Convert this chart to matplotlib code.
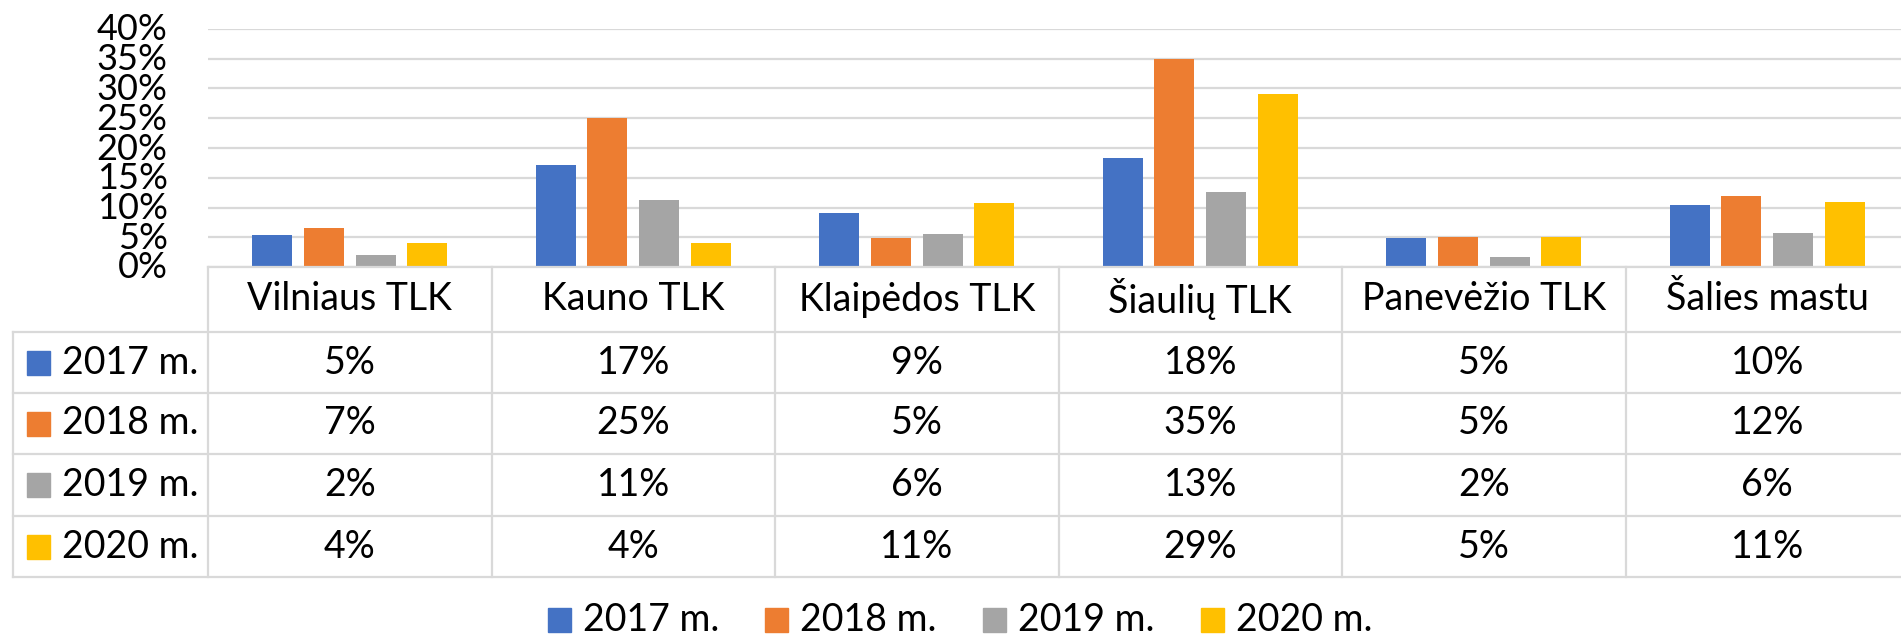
import matplotlib
matplotlib.use("Agg")
from matplotlib import pyplot as plt
from matplotlib.patches import Rectangle
from matplotlib.transforms import blended_transform_factory, ScaledTranslation
from matplotlib.ticker import PercentFormatter

# chart data
categories = ['Vilniaus TLK', 'Kauno TLK', 'Klaipėdos TLK', 'Šiaulių TLK', 'Panevėžio TLK', 'Šalies mastu']
years = ['2017 m.', '2018 m.', '2019 m.', '2020 m.']
v2017 = [0.054, 0.171, 0.091, 0.183, 0.048, 0.104]
v2018 = [0.066, 0.250, 0.049, 0.350, 0.050, 0.120]
v2019 = [0.020, 0.112, 0.055, 0.126, 0.016, 0.057]
v2020 = [0.040, 0.040, 0.108, 0.290, 0.050, 0.110]
series = [v2017, v2018, v2019, v2020]
colors = ['#4472C4', '#ED7D31', '#A5A5A5', '#FFC000']

W, H = 1901, 638
plt.rcParams['font.family'] = ['Lato', 'DejaVu Sans']
fig = plt.figure(figsize=(W / 100, H / 100), dpi=100)

# pixel layout of the Excel-style chart
left_px, right_px, top_px, base_px = 208, 1909, 29, 267
row_px = [267, 332, 393, 454, 516, 577]
table_left_px = 13
grid_c = '#D9D9D9'
fs = 27


def fy(py):
    return 1 - py / H


def fx(px):
    return px / W


ax = fig.add_axes([fx(left_px), fy(base_px), (right_px - left_px) / W, (base_px - top_px) / H])
n = len(categories)
bw, step = 0.141, 0.182
for j, vals in enumerate(series):
    xs = [i + (j - 1.5) * step for i in range(n)]
    ax.bar(xs, vals, width=bw, color=colors[j], zorder=3)

ax.set_xlim(-0.5, n - 0.5)
ax.set_ylim(0, 0.40)
ax.set_yticks([k * 0.05 for k in range(9)])
ax.yaxis.set_major_formatter(PercentFormatter(1.0, decimals=0))
ax.set_xticks([])
ax.tick_params(axis='y', length=0, pad=29, labelsize=fs - 1)
shift = ScaledTranslation(0, 2 / 100, fig.dpi_scale_trans)
for lbl in ax.get_yticklabels():
    lbl.set_transform(lbl.get_transform() + shift)
ax.yaxis.grid(True, color=grid_c, linewidth=1.6, zorder=0)
for s in ax.spines.values():
    s.set_visible(False)

# data table under the axis
tr = blended_transform_factory(ax.transData, fig.transFigure)
line_kw = dict(color=grid_c, linewidth=1.6, clip_on=False)
for k in range(n + 1):
    fig.add_artist(plt.Line2D([k - 0.5, k - 0.5], [fy(row_px[0]), fy(row_px[-1])], transform=tr, **line_kw))
fig.add_artist(plt.Line2D([fx(left_px), fx(right_px)], [fy(row_px[0])] * 2, transform=fig.transFigure, **line_kw))
for py in row_px[1:]:
    fig.add_artist(plt.Line2D([fx(table_left_px), fx(right_px)], [fy(py)] * 2, transform=fig.transFigure, **line_kw))
fig.add_artist(plt.Line2D([fx(table_left_px)] * 2, [fy(row_px[1]), fy(row_px[-1])], transform=fig.transFigure, **line_kw))

for i, cat in enumerate(categories):
    fig.text(i, fy((row_px[0] + row_px[1]) / 2), cat, transform=tr, ha='center', va='center', fontsize=fs)

for j, vals in enumerate(series):
    yc = fy((row_px[j + 1] + row_px[j + 2]) / 2)
    for i, v in enumerate(vals):
        fig.text(i, yc, f'{v:.0%}', transform=tr, ha='center', va='center', fontsize=fs)
    fig.add_artist(Rectangle((fx(27), yc - 12 / H), 23 / W, 24 / H, transform=fig.transFigure,
                             color=colors[j]))
    fig.text(fx(62), yc, years[j], ha='left', va='center', fontsize=fs)

# legend at the bottom
leg_x = [548, 765, 983, 1201]
leg_y = fy(620)
for j, yr in enumerate(years):
    fig.add_artist(Rectangle((fx(leg_x[j]), leg_y - 12 / H), 23 / W, 24 / H, transform=fig.transFigure,
                             color=colors[j]))
    fig.text(fx(leg_x[j] + 35), leg_y, yr, ha='left', va='center', fontsize=fs)

fig.savefig('out.png', dpi=100)
